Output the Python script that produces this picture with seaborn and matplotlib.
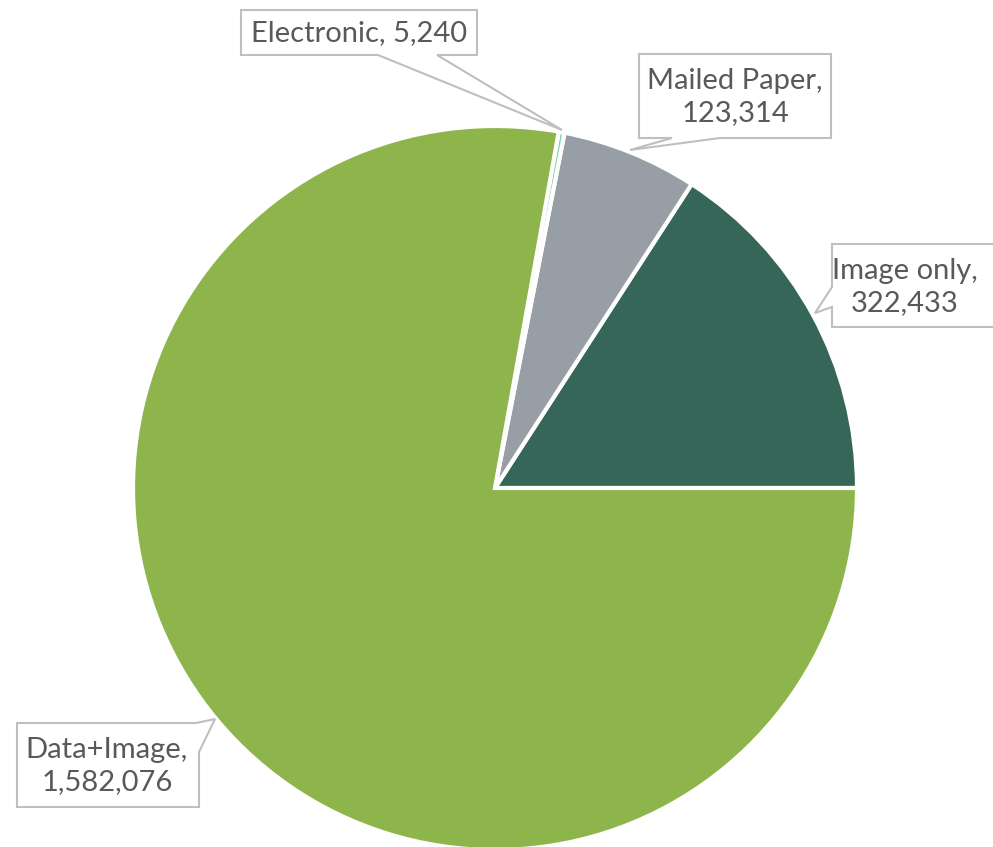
import matplotlib
matplotlib.use("Agg")
import matplotlib.pyplot as plt
from matplotlib.patches import Polygon
import seaborn as sns

# ---- data ----
categories = ["Image only", "Mailed Paper", "Electronic", "Data+Image"]
values = [322433, 123314, 5240, 1582076]
colors = ["#356657", "#979EA6", "#86D3A6", "#8DB54B"]

sns.set_theme(style="white")
plt.rcParams["font.family"] = ["Lato", "DejaVu Sans"]

W, H = 993, 847
fig = plt.figure(figsize=(W / 100, H / 100), dpi=100)
ax = fig.add_axes([0, 0, 1, 1])
ax.set_xlim(0, W)
ax.set_ylim(0, H)
ax.set_aspect("equal")
ax.axis("off")

def P(x, y):
    return (x, H - y)

cx, cy = P(495, 488)
ax.pie(values, colors=colors, startangle=0, counterclock=True,
       center=(cx, cy), radius=362, frame=True,
       wedgeprops=dict(edgecolor="white", linewidth=3))
ax.set_xlim(0, W)
ax.set_ylim(0, H)
ax.axis("off")

def fmt(v):
    return f"{v:,}"

# callout layouts (pixel coords, top-left origin)
layouts = {
    "Electronic": dict(poly=[(241, 10), (477, 10), (477, 55), (437, 55), (562, 130), (378, 55), (241, 55)],
                       text=(359, 33), sep=", "),
    "Mailed Paper": dict(poly=[(639, 54), (831, 54), (831, 138), (720, 138), (630, 150), (672, 138), (639, 138)],
                         text=(735, 97), sep=",\n"),
    "Image only": dict(poly=[(832, 244), (998, 244), (998, 327), (832, 327), (832, 307), (815, 313), (832, 287)],
                       text=(905, 287), sep=",\n"),
    "Data+Image": dict(poly=[(17, 723), (196, 723), (215, 719), (199, 752), (199, 807), (17, 807)],
                       text=(107, 766), sep=",\n"),
}

for cat, val in zip(categories, values):
    lay = layouts[cat]
    poly = Polygon([P(x, y) for x, y in lay["poly"]], closed=True,
                   facecolor="white", edgecolor="#BFBFBF", linewidth=1.5, zorder=5)
    ax.add_patch(poly)
    tx, ty = P(*lay["text"])
    ax.text(tx, ty, cat + lay["sep"] + fmt(val), ha="center", va="center",
            fontsize=21, color="#595959", linespacing=1.3, zorder=6)

fig.savefig("out.png", dpi=100)
